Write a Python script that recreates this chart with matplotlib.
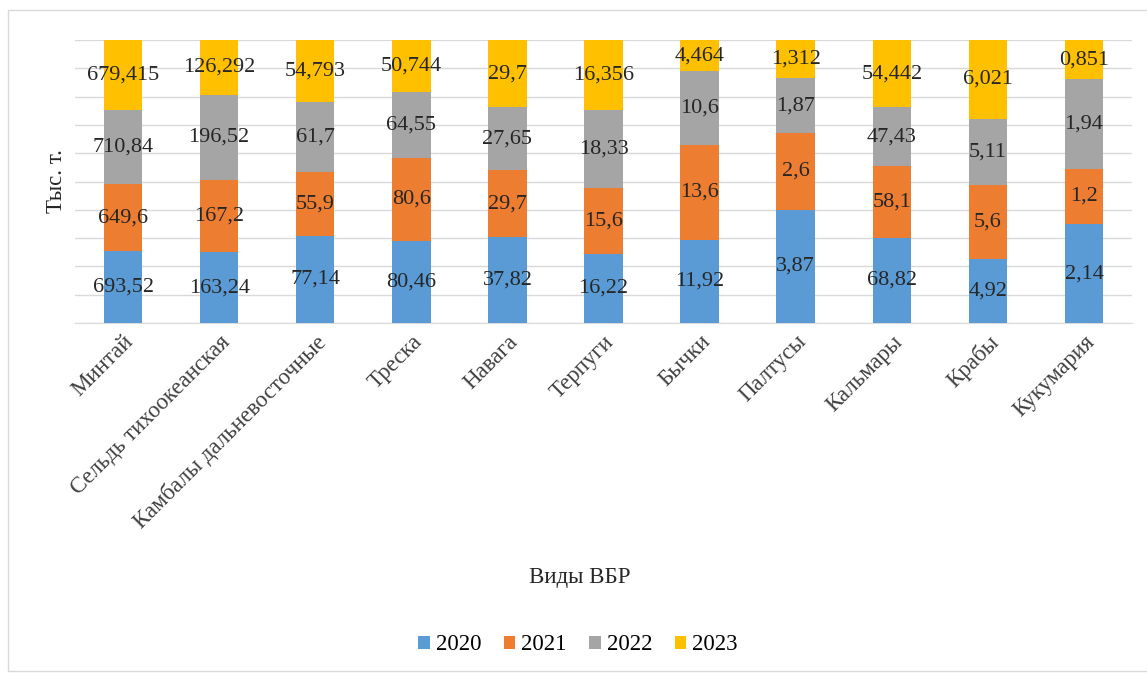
import numpy as np
import matplotlib.pyplot as plt

plt.rcParams['font.family'] = ['Liberation Serif', 'DejaVu Serif']

# Данные
categories = ['Минтай', 'Сельдь тихоокеанская', 'Камбалы дальневосточные', 'Треска',
              'Навага', 'Терпуги', 'Бычки', 'Палтусы', 'Кальмары', 'Крабы', 'Кукумария']
years = ['2020', '2021', '2022', '2023']
v2020 = [693.52, 163.24, 77.14, 80.46, 37.82, 16.22, 11.92, 3.87, 68.82, 4.92, 2.14]
v2021 = [649.6, 167.2, 55.9, 80.6, 29.7, 15.6, 13.6, 2.6, 58.1, 5.6, 1.2]
v2022 = [710.84, 196.52, 61.7, 64.55, 27.65, 18.33, 10.6, 1.87, 47.43, 5.11, 1.94]
v2023 = [679.415, 126.292, 54.793, 50.744, 29.7, 16.356, 4.464, 1.312, 54.442, 6.021, 0.851]
colors = ['#5B9BD5', '#ED7D31', '#A5A5A5', '#FFC000']

series = [v2020, v2021, v2022, v2023]
data = np.array(series, dtype=float)
totals = data.sum(axis=0)
share = data / totals * 100

fig = plt.figure(figsize=(11.47, 6.73), dpi=100)
ax = fig.add_axes([75/1147, 1-323/673, (1132-75)/1147, (323-40)/673])

x = np.arange(len(categories))
bottom = np.zeros(len(categories))
for i in range(4):
    ax.bar(x, share[i], 0.4, bottom=bottom, color=colors[i], label=years[i], zorder=3)
    for j in range(len(categories)):
        txt = str(series[i][j]).replace('.', ',')
        ax.text(x[j], bottom[j] + share[i][j]/2, txt, ha='center', va='center',
                fontsize=16, color='#262626', zorder=4)
    bottom += share[i]

ax.set_xlim(-0.5, len(categories) - 0.5)
ax.set_ylim(0, 100)
ax.set_yticks(np.arange(0, 101, 10))
ax.yaxis.grid(True, color='#D9D9D9', linewidth=1, zorder=0)
ax.tick_params(axis='y', length=0, labelleft=False)
ax.tick_params(axis='x', length=0, pad=6)
for s in ['top', 'right', 'left']:
    ax.spines[s].set_visible(False)
ax.spines['bottom'].set_color('#D9D9D9')

ax.set_xticks(x)
ax.set_xticklabels(categories, rotation=45, ha='right', rotation_mode='anchor',
                   fontsize=16.5, color='#404040')

ax.set_ylabel('Тыс. т.', fontsize=16.5, color='#262626', labelpad=6)
fig.text(580/1147, 1-578/673, 'Виды ВБР', ha='center', va='center', fontsize=16.5, color='#262626')

ax.legend(loc='center', bbox_to_anchor=(578/1147, 1-645/673), bbox_transform=fig.transFigure,
          ncol=4, frameon=False, fontsize=16.5, handlelength=0.5, handleheight=0.5,
          handletextpad=0.25, columnspacing=1.0)

# рамка области диаграммы
fig.patches.append(plt.Rectangle((8/1147, 0.003), 1.2, 1-10/673-0.003, transform=fig.transFigure,
                                 fill=False, edgecolor='#D9D9D9', linewidth=1))

fig.savefig('out.png', dpi=100)
